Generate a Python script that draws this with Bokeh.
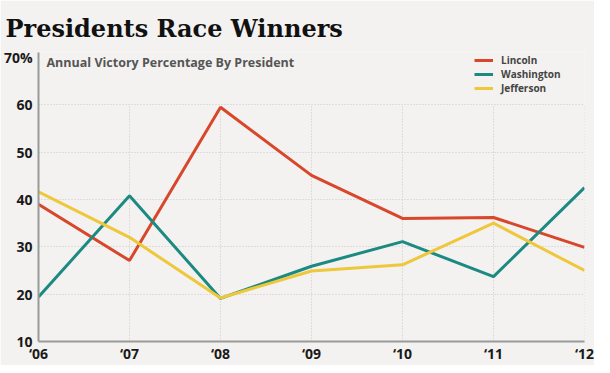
from bokeh.plotting import figure
from bokeh.models import Label, Legend, LegendItem, FixedTicker, Range1d
from bokeh.embed import file_html
from bokeh.resources import INLINE

# ---- data ----
years = [2006, 2007, 2008, 2009, 2010, 2011, 2012]
year_labels = ["\u201806", "\u201807", "\u201808", "\u201809", "\u201810", "\u201811", "\u201812"]
lincoln = [39.0, 27.1, 59.5, 45.1, 36.0, 36.2, 29.9]
washington = [19.4, 40.8, 19.1, 25.9, 31.1, 23.7, 42.5]
jefferson = [41.6, 32.0, 19.2, 24.9, 26.2, 35.0, 25.0]
series_names = ["Lincoln", "Washington", "Jefferson"]
y_ticks = [10, 20, 30, 40, 50, 60, 70]
y_tick_labels = ["10", "20", "30", "40", "50", "60", "70%"]

title_text = "Presidents Race Winners"
subtitle_text = "Annual Victory Percentage By President"

BG = "#f3f2f0"
COLORS = ["#d8472c", "#1d8a81", "#eec83a"]
TICK_FONT = "Open Sans"

p = figure(width=594, height=365, output_backend="svg", toolbar_location=None,
           x_range=Range1d(2006, 2012), y_range=Range1d(10, 71.06),
           min_border_left=32, min_border_right=10, min_border_top=52, min_border_bottom=24)
p.background_fill_color = BG
p.border_fill_color = BG
p.outline_line_color = None

p.title.text = title_text
p.title.text_font = "DejaVu Serif"
p.title.text_font_style = "bold"
p.title.text_font_size = "24px"
p.title.text_color = "#111111"
p.title.align = "left"
p.title.offset = -33
p.title.standoff = 20

# grid
p.xgrid.visible = False
p.ygrid.ticker = FixedTicker(ticks=[t for t in y_ticks if 10 < t < 70])
p.ygrid.grid_line_color = "#c9c9c9"
p.ygrid.grid_line_dash = "1 2"
p.ygrid.grid_line_width = 1
grid_top = [t for t in y_ticks if t < 70][-1]
p.segment(x0=years[1:], y0=[y_ticks[0]] * (len(years) - 1), x1=years[1:], y1=[grid_top] * (len(years) - 1),
          line_color="#c9c9c9", line_dash="1 2", line_width=1)

# axes
p.xaxis.ticker = FixedTicker(ticks=years)
p.xaxis.major_label_overrides = {y: l for y, l in zip(years, year_labels)}
p.yaxis.ticker = FixedTicker(ticks=y_ticks)
p.yaxis.major_label_overrides = {t: l for t, l in zip(y_ticks, y_tick_labels)}
for ax in (p.xaxis[0], p.yaxis[0]):
    ax.axis_line_color = "#9a9a9a"
    ax.axis_line_width = 2
    ax.major_tick_line_color = None
    ax.minor_tick_line_color = None
    ax.major_tick_out = 0
    ax.major_tick_in = 0
    ax.major_label_text_font = TICK_FONT
    ax.major_label_text_font_style = "bold"
    ax.major_label_text_font_size = "14px"
    ax.major_label_text_color = "#1a1a1a"
p.xaxis.major_label_standoff = 2
p.yaxis.major_label_standoff = 6

# lines
renderers = []
for vals, c in zip([lincoln, washington, jefferson], COLORS):
    r = p.line(years, vals, line_color=c, line_width=3)
    renderers.append(r)

legend = Legend(items=[LegendItem(label=n, renderers=[r]) for n, r in zip(series_names, renderers)],
                location=(436, 246), orientation="vertical",
                glyph_width=19, glyph_height=14, label_height=14, spacing=0,
                label_standoff=8, padding=0, margin=0,
                background_fill_alpha=0, border_line_color=None,
                label_text_font=TICK_FONT, label_text_font_style="bold",
                label_text_font_size="10px", label_text_color="#444444")
p.add_layout(legend, "center")

# texts
p.add_layout(Label(x=8, y=278.8, x_units="screen", y_units="screen", text=subtitle_text,
                   text_font=TICK_FONT, text_font_style="bold", text_font_size="12.5px",
                   text_color="#555555", text_baseline="alphabetic"))

open("out.html", "w").write(file_html(p, INLINE))
